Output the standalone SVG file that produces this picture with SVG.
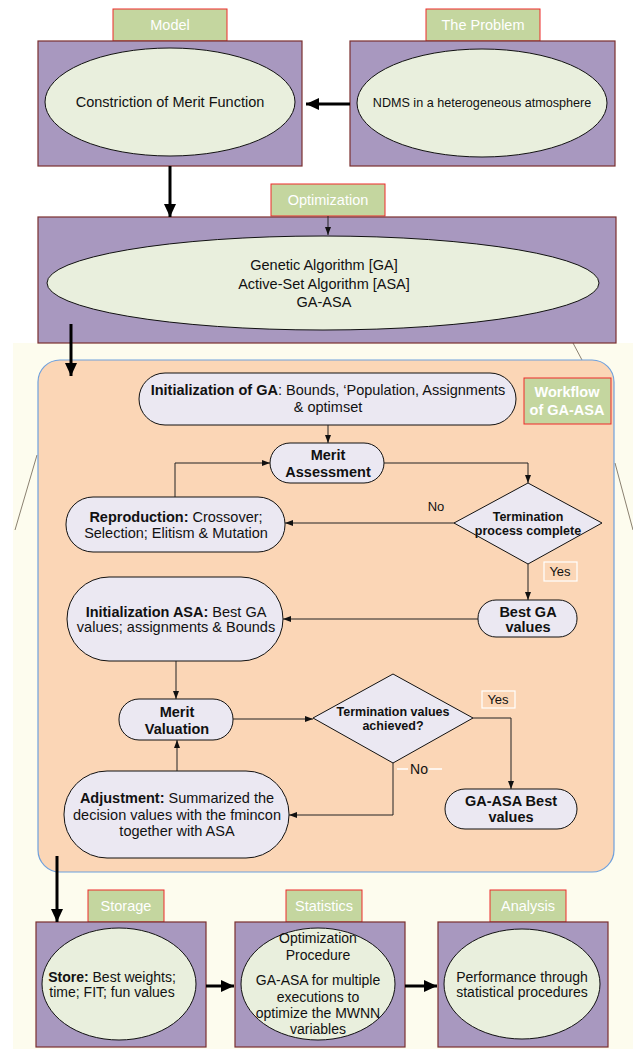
<svg xmlns="http://www.w3.org/2000/svg" width="633" height="1049" viewBox="0 0 633 1049">
<style>
text{font-family:"Liberation Sans",Arial,sans-serif;fill:#111;}
.tab{fill:#c4d69f;stroke:#ee2a2a;stroke-width:1;}
.tabt{fill:#fff;font-size:14.5px;text-anchor:middle;}
.box{fill:#a898bf;stroke:#7b2f2f;stroke-width:1.2;}
.ell{fill:#e9efdd;stroke:#111;stroke-width:1;}
.node{fill:#ebe8f2;stroke:#111;stroke-width:1;}
.t{font-size:14.5px;text-anchor:middle;}
.b{font-weight:bold;}
.d{font-size:12.5px;font-weight:bold;text-anchor:middle;}
.thick{stroke:#000;stroke-width:3;fill:none;marker-end:url(#big);}
.thin{stroke:#222;stroke-width:1;fill:none;marker-end:url(#small);}
.lbl{fill:none;stroke:#fff;stroke-width:1.2;}
</style>
<defs>
<marker id="big" markerUnits="userSpaceOnUse" markerWidth="14" markerHeight="14" viewBox="0 0 14 14" refX="13" refY="7" orient="auto"><path d="M0,1 L13,7 L0,13 z" fill="#000"/></marker>
<marker id="small" markerUnits="userSpaceOnUse" markerWidth="8" markerHeight="8" viewBox="0 0 8 8" refX="8" refY="4" orient="auto"><path d="M0,1 L8,4 L0,7 z" fill="#111"/></marker>
</defs>
<rect width="633" height="1049" fill="#fff"/>
<rect x="13" y="343" width="620" height="706" fill="#fdfcee"/>
<g stroke="#8a8070" stroke-width="1" fill="none">
<path d="M37,455 L15,530"/>
<path d="M573,343 L582,360"/>
<path d="M615,463 L633,530"/>
</g>

<g id="model">
<rect class="tab" x="113" y="9" width="114" height="32"/>
<text class="tabt" x="170" y="30">Model</text>
<rect class="box" x="38" y="41" width="264" height="125"/>
<ellipse class="ell" cx="170" cy="102" rx="125" ry="54"/>
<text class="t" x="170" y="107">Constriction of Merit Function</text>
</g>
<g id="problem">
<rect class="tab" x="426" y="9" width="114" height="32"/>
<text class="tabt" x="483" y="30">The Problem</text>
<rect class="box" x="350" y="41" width="265" height="125"/>
<ellipse class="ell" cx="482" cy="103" rx="125" ry="54"/>
<text class="t" x="482" y="107" style="font-size:12.6px">NDMS in a heterogeneous atmosphere</text>
</g>
<g id="optimization">
<rect class="tab" x="271" y="184" width="114" height="32"/>
<text class="tabt" x="328" y="205">Optimization</text>
<rect class="box" x="38" y="217" width="578" height="126"/>
<ellipse class="ell" cx="323" cy="283" rx="276" ry="47"/>
<text class="t" x="324" y="270">Genetic Algorithm [GA]</text>
<text class="t" x="324" y="289">Active-Set Algorithm [ASA]</text>
<text class="t" x="324" y="307">GA-ASA</text>
</g>

<g id="workflow">
<rect x="38" y="360" width="576" height="512" rx="22" fill="#fbd6b6" stroke="#6fa0dc" stroke-width="1.2"/>
<rect class="tab" x="524" y="378" width="87" height="46"/>
<text class="tabt b" x="567" y="397">Workflow</text>
<text class="tabt b" x="567" y="415">of GA-ASA</text>
</g>

<g id="init-ga">
<rect class="node" x="139" y="373" width="377" height="52" rx="26"/>
<text class="t" x="328" y="395"><tspan class="b">Initialization of GA</tspan>: Bounds, ‘Population, Assignments</text>
<text class="t" x="328" y="412">&amp; optimset</text>
</g>
<g id="merit-assessment">
<rect class="node" x="270" y="443" width="114" height="40" rx="20"/>
<text class="t b" x="328" y="460">Merit</text>
<text class="t b" x="328" y="477">Assessment</text>
</g>
<g id="reproduction">
<rect class="node" x="66" y="497" width="219" height="55" rx="27"/>
<text class="t" x="176" y="522"><tspan class="b">Reproduction:</tspan> Crossover;</text>
<text class="t" x="176" y="538">Selection; Elitism &amp; Mutation</text>
</g>
<g id="termination-process">
<polygon class="node" points="528,483 602,523 528,564 454,523"/>
<text class="d" x="528" y="521">Termination</text>
<text class="d" x="528" y="535">process complete</text>
</g>
<g id="best-ga">
<rect class="node" x="478" y="600" width="99" height="37" rx="18"/>
<text class="t b" x="528" y="617">Best GA</text>
<text class="t b" x="528" y="632">values</text>
</g>
<g id="init-asa">
<rect class="node" x="67" y="577" width="216" height="84" rx="42"/>
<text class="t" x="176" y="617"><tspan class="b">Initialization ASA:</tspan> Best GA</text>
<text class="t" x="176" y="632">values; assignments &amp; Bounds</text>
</g>
<g id="merit-valuation">
<rect class="node" x="119" y="699" width="114" height="41" rx="20"/>
<text class="t b" x="177" y="717">Merit</text>
<text class="t b" x="177" y="734">Valuation</text>
</g>
<g id="termination-values">
<polygon class="node" points="393,674 473,718 393,763 313,718"/>
<text class="d" x="393" y="716">Termination values</text>
<text class="d" x="393" y="730">achieved?</text>
</g>
<g id="ga-asa-best">
<rect class="node" x="445" y="789" width="132" height="40" rx="20"/>
<text class="t b" x="511" y="806">GA-ASA Best</text>
<text class="t b" x="511" y="822">values</text>
</g>
<g id="adjustment">
<rect class="node" x="64" y="771" width="225" height="87" rx="43"/>
<text class="t" x="177" y="803"><tspan class="b">Adjustment:</tspan> Summarized the</text>
<text class="t" x="177" y="820">decision values with the fmincon</text>
<text class="t" x="177" y="836">together with ASA</text>
</g>

<g id="storage">
<rect class="tab" x="88" y="890" width="76" height="32"/>
<text class="tabt" x="126" y="911">Storage</text>
<rect class="box" x="36" y="922" width="170" height="125"/>
<ellipse class="ell" cx="119" cy="984" rx="77" ry="56"/>
<text class="t" x="112" y="982" style="font-size:14px"><tspan class="b">Store:</tspan> Best weights;</text>
<text class="t" x="112" y="997" style="font-size:14px">time; FIT; fun values</text>
</g>
<g id="statistics">
<rect class="tab" x="286" y="890" width="76" height="32"/>
<text class="tabt" x="324" y="911">Statistics</text>
<rect class="box" x="235" y="922" width="170" height="125"/>
<ellipse class="ell" cx="318" cy="984" rx="77" ry="56"/>
<g style="font-size:14px">
<text class="t" x="318" y="943" style="font-size:14px">Optimization</text>
<text class="t" x="318" y="960" style="font-size:14px">Procedure</text>
<text class="t" x="318" y="985" style="font-size:14px">GA-ASA for multiple</text>
<text class="t" x="318" y="1002" style="font-size:14px">executions to</text>
<text class="t" x="318" y="1018" style="font-size:14px">optimize the MWNN</text>
<text class="t" x="318" y="1034" style="font-size:14px">variables</text>
</g>
</g>
<g id="analysis">
<rect class="tab" x="490" y="890" width="76" height="32"/>
<text class="tabt" x="528" y="911">Analysis</text>
<rect class="box" x="438" y="922" width="170" height="125"/>
<ellipse class="ell" cx="522" cy="984" rx="78" ry="55"/>
<text class="t" x="522" y="982" style="font-size:14px">Performance through</text>
<text class="t" x="522" y="997" style="font-size:14px">statistical procedures</text>
</g>

<g id="connectors">
<path class="thick" d="M350,104 H306"/>
<path class="thick" d="M170,166 V217"/>
<path class="thin" d="M328,216 V235"/>
<path class="thick" d="M71,324 V376"/>
<path class="thick" d="M57,856 V922"/>
<path class="thick" d="M206,986 H234"/>
<path class="thick" d="M405,986 H437"/>
<path class="thin" d="M328,425 V443"/>
<path class="thin" d="M384,463 H528 V483"/>
<path class="thin" d="M175,497 V463 H270"/>
<path class="thin" d="M455,523 H285"/>
<path class="thin" d="M528,564 V600"/>
<path class="thin" d="M478,619 H283"/>
<path class="thin" d="M176,661 V699"/>
<path class="thin" d="M233,719 H313"/>
<path class="thin" d="M473,718 H511 V789"/>
<path class="thin" d="M393,763 V815 H289"/>
<path class="thin" d="M177,771 V740"/>
<text x="436" y="511" style="font-size:13px;text-anchor:middle">No</text>
<rect class="lbl" x="544" y="562" width="33" height="19"/>
<text x="560" y="576" style="font-size:13px;text-anchor:middle">Yes</text>
<rect class="lbl" x="482" y="691" width="33" height="17"/>
<text x="498" y="704" style="font-size:13px;text-anchor:middle">Yes</text>
<path d="M397,769 H408 M429,769 H442" stroke="#fff" stroke-width="1.5"/>
<text x="419" y="774" style="font-size:14px;text-anchor:middle">No</text>
</g>
</svg>
